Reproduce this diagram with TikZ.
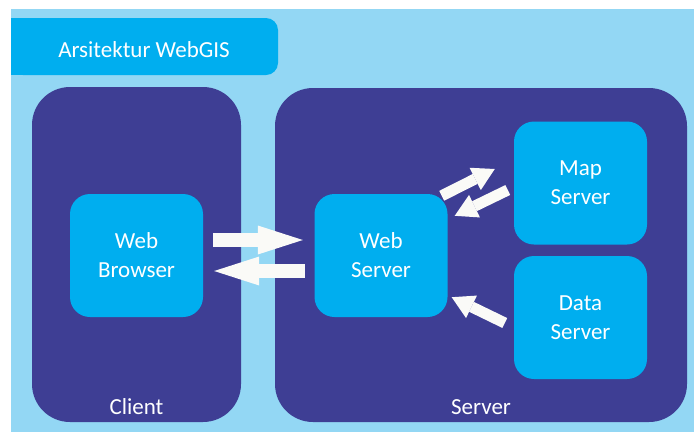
\documentclass[tikz,border=0pt]{standalone}
\usepackage{fontspec}
\setmainfont{Carlito}
\usetikzlibrary{arrows.meta}

\definecolor{skybg}{RGB}{147,215,244}
\definecolor{navybox}{RGB}{62,62,148}
\definecolor{cyanbox}{RGB}{0,174,239}
\definecolor{arrowwhite}{RGB}{250,250,247}

\begin{document}
\begin{tikzpicture}[x=1pt,y=-1pt]
	\fontsize{23}{29}\selectfont
	\tikzstyle{title}=[fill=cyanbox,rounded corners=12pt,minimum width=267pt,minimum height=57pt,inner sep=0pt]
	\tikzstyle{tier}=[fill=navybox,rounded corners=38pt,inner sep=0pt]
	\tikzstyle{unit}=[fill=cyanbox,text=white,rounded corners=20pt,align=center,inner sep=0pt,minimum width=133pt,minimum height=123pt]
	\tikzstyle{tier-label}=[text=white,inner sep=0pt,anchor=base]
	\tikzstyle{flow}=[draw=arrowwhite,line width=14pt,-{Triangle[length=45pt,width=29pt,line width=0pt]}]
	\tikzstyle{flow-diag}=[draw=arrowwhite,line width=11pt,-{Triangle[length=22pt,width=25pt,line width=0pt]}]

	\def \base{414}
	\def \mid{255.5}

	\useasboundingbox (0,0) rectangle (694,432);
	\fill[skybg] (11,9) rectangle (694,432);

	% title tab, square on the left
	\fill[cyanbox] (11,18) rectangle (60,75);
	\node[title] 		(title)		at (144.5,46.5)		{};
	\node[tier-label] 	(title-txt)	at (144,57)		{Arsitektur WebGIS};

	\node[tier, minimum width=209pt, minimum height=335pt] 	(client)	at (136.5,254.5)	{};
	\node[tier, minimum width=412pt, minimum height=334pt] 	(server)	at (481,255)		{};

	\node[tier-label] 	(client-lbl)	at (136.5,\base)	{Client};
	\node[tier-label] 	(server-lbl)	at (481,\base)		{Server};

	\node[unit] 	(wbr)	at (136.5,\mid)		{Web\\Browser};
	\node[unit] 	(wsv)	at (381,\mid)		{Web\\Server};
	\node[unit] 	(msv)	at (580.5,183)		{Map\\Server};
	\node[unit] 	(dsv)	at (580.5,317.5)	{Data\\Server};

	\draw[flow, shorten <=10pt, shorten >=11.5pt] ([yshift=15.5pt]wbr.east) -- ([yshift=15.5pt]wsv.west);
	\draw[flow, shorten <=9.5pt, shorten >=11pt] ([yshift=-15.5pt]wsv.west) -- ([yshift=-15.5pt]wbr.east);

	\draw[flow-diag] ([shift={(-6pt,-2pt)}]wsv.north east) -- ([shift={(-19pt,14pt)}]msv.west);
	\draw[flow-diag] ([shift={(-6pt,-7pt)}]msv.west) -- ([shift={(7pt,-22pt)}]wsv.north east);
	\draw[flow-diag] ([shift={(-9pt,-5.5pt)}]dsv.west) -- ([shift={(4pt,20pt)}]wsv.south east);
\end{tikzpicture}
\end{document}
